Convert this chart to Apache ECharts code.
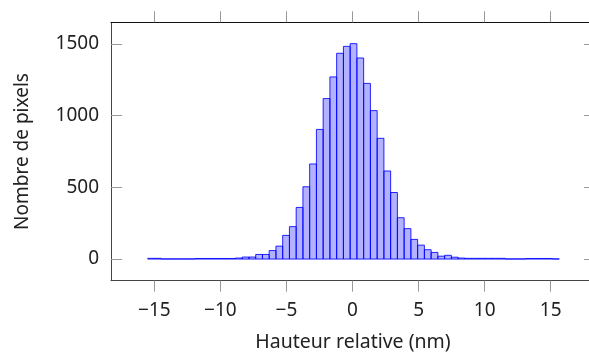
<!DOCTYPE html>
<html>
<head>
<meta charset="utf-8">
<script src="https://cdn.jsdelivr.net/npm/echarts@6/dist/echarts.min.js"></script>
<style>
html,body{margin:0;padding:0;background:#fff;}
#chart{width:589px;height:356px;}
</style>
</head>
<body>
<div id="chart"></div>
<script>
// Histogram bins: range of the data and counts per bin
const binRange = [-15.50, 15.65];
const counts = [5, 5, 1, 1, 1, 1, 1, 4, 4, 4, 4, 4, 4, 7, 14, 14, 32, 32, 59, 90,
  165, 226, 360, 504, 663, 904, 1119, 1270, 1435, 1483, 1502, 1402, 1225, 1035, 842, 614,
  464, 288, 212, 137, 97, 65, 46, 20, 26, 13, 7, 5, 5, 5, 5, 5, 5, 1, 1, 1, 4, 4, 4, 4, 1];
const xTicks = [-15, -10, -5, 0, 5, 10, 15];
const yTicks = [0, 500, 1000, 1500];
const xLabel = 'Hauteur relative (nm)';
const yLabel = 'Nombre de pixels';

const nBins = counts.length;
const binW = (binRange[1] - binRange[0]) / nBins;
const bars = counts.map((c, i) => [binRange[0] + i * binW, binRange[0] + (i + 1) * binW, c]);

const FONT = 'Noto Sans';
const lineCol = '#444';
const tickCol = '#999';
const chart = echarts.init(document.getElementById('chart'), null, {renderer: 'canvas'});
const fmtX = v => (v < 0 ? '\u2212' + Math.abs(v) : String(v));
const fmtY = v => String(v);
chart.setOption({
  animation: false,
  textStyle: {fontFamily: FONT},
  grid: {left: 111, top: 22.3, width: 484, height: 258.4, outerBoundsMode: 'none', containLabel: false},
  xAxis: [{
    type: 'value', min: -18.28, max: 18.35, position: 'bottom',
    name: xLabel, nameLocation: 'middle', nameGap: 52,
    nameTextStyle: {fontFamily: FONT, fontSize: 19.5, color: '#222'},
    axisLine: {show: true, onZero: false, lineStyle: {color: lineCol, width: 1}},
    axisTick: {show: true, inside: false, length: 11, customValues: xTicks, lineStyle: {color: tickCol}},
    axisLabel: {show: true, customValues: xTicks, formatter: fmtX, margin: 20, fontFamily: FONT, fontSize: 19, color: '#222'},
    splitLine: {show: false}
  }, {
    type: 'value', min: -18.28, max: 18.35, position: 'top',
    axisLine: {show: true, onZero: false, lineStyle: {color: '#111', width: 1}},
    axisTick: {show: true, inside: false, length: 11, customValues: xTicks, lineStyle: {color: tickCol}},
    axisLabel: {show: false},
    splitLine: {show: false}
  }],
  yAxis: [{
    type: 'value', min: -151, max: 1651, position: 'left',
    name: yLabel, nameLocation: 'middle', nameGap: 79, nameRotate: 90,
    nameTextStyle: {fontFamily: FONT, fontSize: 19, color: '#222'},
    axisLine: {show: true, onZero: false, lineStyle: {color: lineCol, width: 1}},
    axisTick: {show: true, inside: true, length: 11, customValues: yTicks, lineStyle: {color: tickCol}},
    axisLabel: {show: true, customValues: yTicks, formatter: fmtY, margin: 12, fontFamily: FONT, fontSize: 19, color: '#222'},
    splitLine: {show: false}
  }, {
    type: 'value', min: -151, max: 1651, position: 'right',
    axisLine: {show: true, onZero: false, lineStyle: {color: lineCol, width: 1}},
    axisTick: {show: true, inside: true, length: 11, customValues: yTicks, lineStyle: {color: tickCol}},
    axisLabel: {show: false},
    splitLine: {show: false}
  }],
  series: [{
    type: 'custom',
    xAxisIndex: 0, yAxisIndex: 0,
    data: bars,
    encode: {x: [0, 1], y: 2},
    renderItem: function (params, api) {
      const p0 = api.coord([api.value(0), api.value(2)]);
      const p1 = api.coord([api.value(1), 0]);
      return {
        type: 'rect',
        shape: {x: p0[0], y: p0[1], width: p1[0] - p0[0], height: p1[1] - p0[1]},
        style: {fill: 'rgba(0,0,255,0.3)', stroke: 'rgba(0,0,255,0.85)', lineWidth: 1}
      };
    }
  }]
});
</script>
</body>
</html>
